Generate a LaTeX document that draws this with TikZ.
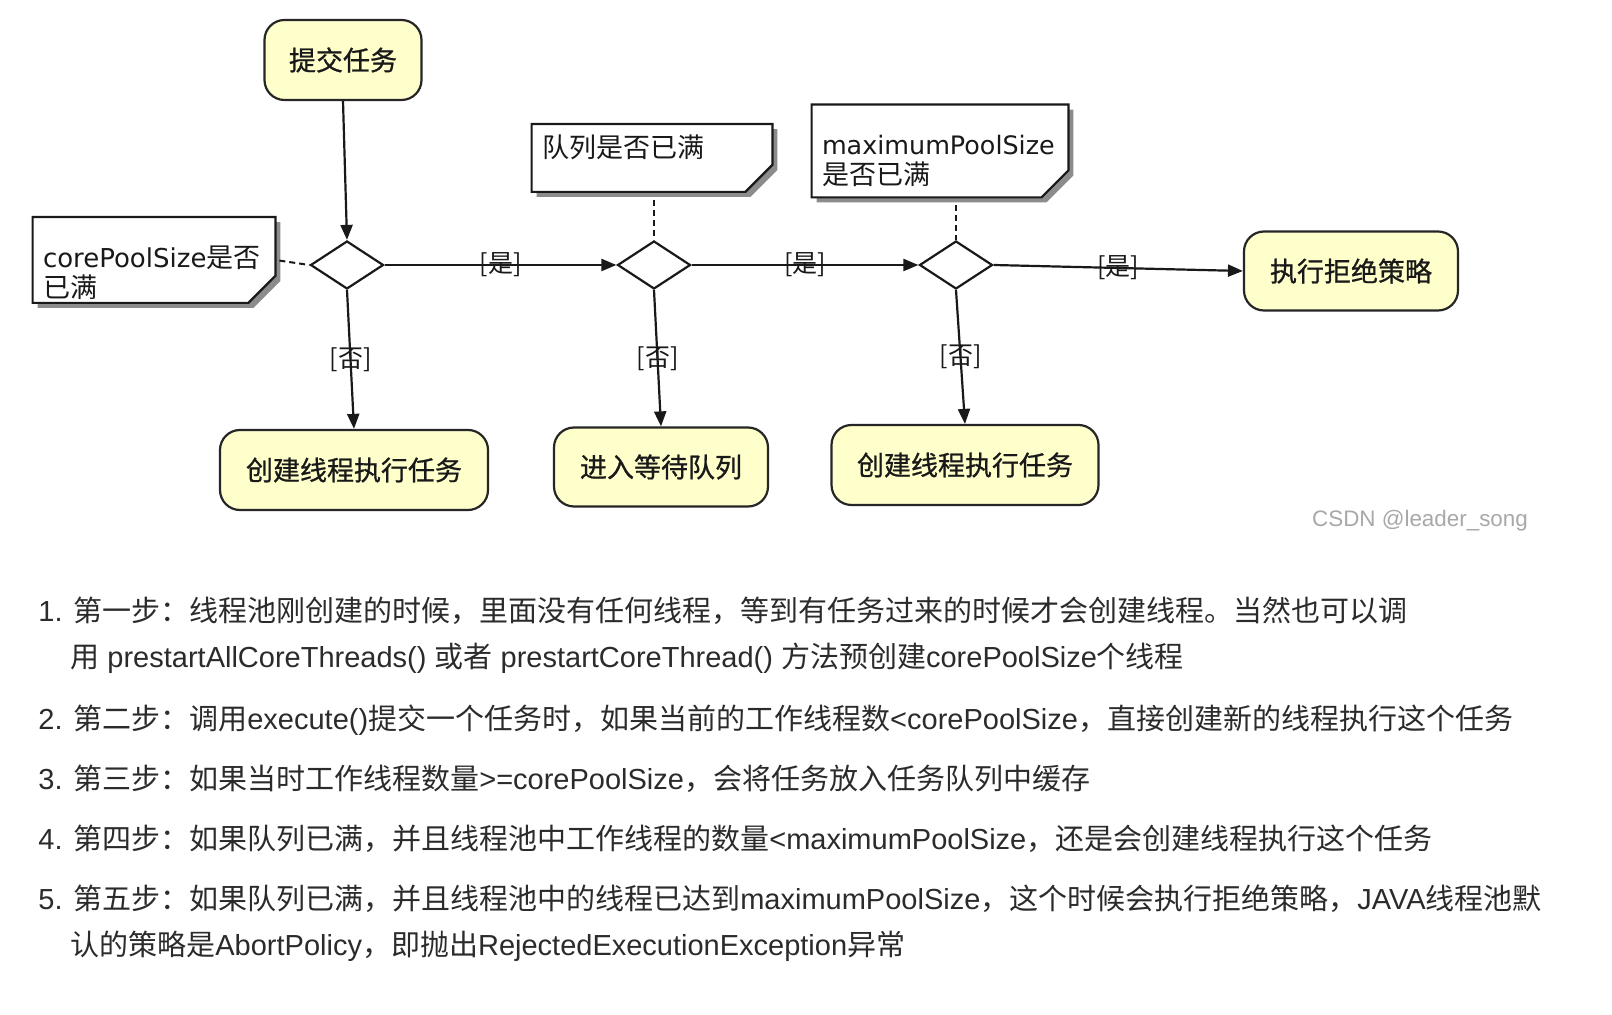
\documentclass[tikz,border=0pt]{standalone}
\usepackage{fontspec}
\setmainfont{Noto Sans CJK SC}
\newfontfamily\boxcjk{Noto Sans CJK SC}[FakeBold=0.8]
\newfontfamily\lat{Liberation Sans}
\newfontfamily\dlat{DejaVu Sans}
\usetikzlibrary{shapes.geometric,arrows.meta}
\definecolor{yellowbg}{HTML}{FFFFCC}
\definecolor{textgray}{HTML}{2B2B2B}
\definecolor{wmgray}{HTML}{A8A8A8}
\pgfdeclarelayer{bg}
\pgfdeclarelayer{paper}
\pgfsetlayers{paper,bg,main}
\newcommand\notebg[1]{%
  \begin{pgfonlayer}{bg}
  \fill[black!45] ([shift={(5,5)}]#1.north west) -- ([shift={(5,5)}]#1.north east)
     -- ([shift={(5,-22)}]#1.south east) -- ([shift={(-22,5)}]#1.south east)
     -- ([shift={(5,5)}]#1.south west) -- cycle;
  \draw[fill=white, line width=1.1pt, draw=black!90] (#1.north west) -- (#1.north east)
     -- ([shift={(0,-27)}]#1.south east) -- ([shift={(-27,0)}]#1.south east)
     -- (#1.south west) -- cycle;
  \end{pgfonlayer}}
\begin{document}
\begin{tikzpicture}[x=0.5pt,y=-0.5pt,
  box/.style={draw=black!85, line width=1.1pt, fill=yellowbg, rounded corners=10pt,
    font=\boxcjk\fontsize{13.5}{15}\selectfont, inner sep=0pt, text=black!90},
  dec/.style={diamond, draw=black!90, line width=1.1pt, inner sep=0pt, fill=white,
    minimum width=36.5pt, minimum height=24pt},
  note/.style={rectangle, inner xsep=5pt, inner ysep=0pt, align=left,
    font=\fontsize{13.5}{15}\selectfont, text=black!90, text height=11pt, text depth=3pt},
  flow/.style={line width=1.1pt, draw=black!90, -{Triangle[length=7.5pt,width=6pt]}},
  dashline/.style={line width=1pt, draw=black!90, dash pattern=on 3pt off 2pt},
  lbl/.style={font=\fontsize{12.5}{12.5}\selectfont, inner sep=0pt, text=black!90},
  listtext/.style={anchor=base west, inner sep=0pt, font=\fontsize{14.5}{17}\selectfont, text=textgray}]
\useasboundingbox (0,0) rectangle (1612,1015);
\begin{pgfonlayer}{paper}
\fill[white] (0,0) rectangle (1612,1015);
\end{pgfonlayer}

% boxes
\node[box, minimum width=78.5pt, minimum height=40pt] (submit) at (343,60) {提交任务};
\node[box, minimum width=107pt, minimum height=39.5pt] (reject) at (1351,271) {执行拒绝策略};
\node[box, minimum width=134pt, minimum height=40pt] (create1) at (354,470) {创建线程执行任务};
\node[box, minimum width=107pt, minimum height=39.5pt] (wait) at (661,467) {进入等待队列};
\node[box, minimum width=133.5pt, minimum height=40pt] (create2) at (965,465) {创建线程执行任务};

% decisions
\node[dec] (d1) at (347,265) {};
\node[dec] (d2) at (654,265) {};
\node[dec] (d3) at (956,265) {};

% notes
\node[note, minimum width=121pt, minimum height=42.5pt, text width=111pt] (n1) at (154,260)
  {{\dlat\fontsize{13}{15}\selectfont corePoolSize}是否\\已满};
\node[note, minimum width=120pt, minimum height=33.5pt, text width=110pt, text depth=11pt] (n2) at (652,158)
  {队列是否已满};
\node[note, minimum width=128pt, minimum height=46pt, text width=118pt, text depth=7pt] (n3) at (940,151)
  {{\dlat\fontsize{12.7}{15}\selectfont maximumPoolSize}\\是否已满};
\notebg{n1}
\notebg{n2}
\notebg{n3}

% connectors
\draw[flow] (submit.south) -- (d1.north);
\draw[flow] (d1.east) -- node[lbl] {[是]} (d2.west);
\draw[flow] (d2.east) -- node[lbl] {[是]} (d3.west);
\draw[flow] (d3.east) -- node[lbl] {[是]} (reject.west);
\draw[flow] (d1.south) -- node[lbl] {[否]} (create1.north);
\draw[flow] (d2.south) -- node[lbl] {[否]} (wait.north);
\draw[flow] (d3.south) -- node[lbl] {[否]} (create2.north);
\draw[dashline, shorten <=2pt] (n1.east) -- (d1.west);
\draw[dashline, shorten <=4pt] (d2.north |- n2.south) -- (d2.north);
\draw[dashline, shorten <=4pt] (d3.north |- n3.south) -- (d3.north);

% watermark
\node[font=\lat\fontsize{11.2}{12}\selectfont, text=wmgray, inner sep=0pt] (wm) at (1420,521) {CSDN @leader\_song};

% list
\node[listtext] (l1a) at (38,622) {{\lat 1. }第一步：线程池刚创建的时候，里面没有任何线程，等到有任务过来的时候才会创建线程。当然也可以调};
\node[listtext] (l1b) at (70,668) {用{\lat\ prestartAllCoreThreads() }或者{\lat\ prestartCoreThread() }方法预创建{\lat corePoolSize}个线程};
\node[listtext] (l2) at (38,729) {{\lat 2. }第二步：调用{\lat execute()}提交一个任务时，如果当前的工作线程数{\lat <corePoolSize}，直接创建新的线程执行这个任务};
\node[listtext] (l3) at (38,789) {{\lat 3. }第三步：如果当时工作线程数量{\lat >=corePoolSize}，会将任务放入任务队列中缓存};
\node[listtext] (l4) at (38,849) {{\lat 4. }第四步：如果队列已满，并且线程池中工作线程的数量{\lat <maximumPoolSize}，还是会创建线程执行这个任务};
\node[listtext] (l5a) at (38,909) {{\lat 5. }第五步：如果队列已满，并且线程池中的线程已达到{\lat maximumPoolSize}，这个时候会执行拒绝策略，{\lat JAVA}线程池默};
\node[listtext] (l5b) at (70,955) {认的策略是{\lat AbortPolicy}，即抛出{\lat RejectedExecutionException}异常};
\end{tikzpicture}
\end{document}
